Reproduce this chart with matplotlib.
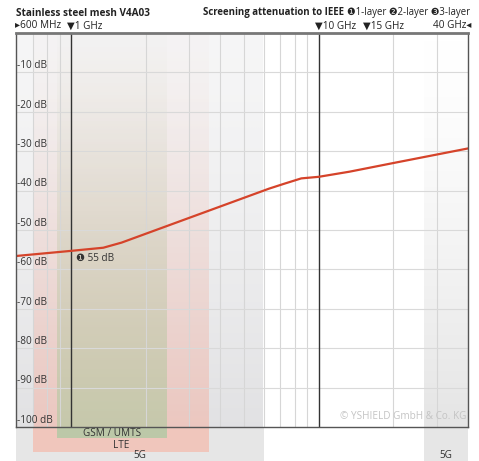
import numpy as np
import matplotlib
matplotlib.use("Agg")
import matplotlib.pyplot as plt
from matplotlib.patches import Rectangle
import matplotlib.transforms as mtransforms

# ---------------- data ----------------
freq_ghz = [0.6, 1.0, 1.35, 1.6, 6.3, 7.3, 8.5, 10, 13.3, 20, 40]
atten_db = [-56.6, -55.3, -54.5, -53.2, -39.5, -38.2, -36.9, -36.5, -35.2, -33.0, -29.3]

y_ticks = [-10, -20, -30, -40, -50, -60, -70, -80, -90, -100]
y_labels = ["-10 dB", "-20 dB", "-30 dB", "-40 dB", "-50 dB", "-60 dB",
            "-70 dB", "-80 dB", "-90 dB", "-100 dB"]
minor_freqs = [0.7, 0.8, 0.9, 2, 3, 4, 5, 6, 7, 8, 9, 20, 30]
major_freqs = [1, 10]

# frequency bands (GHz)
band_names = ["5G", "LTE", "GSM / UMTS", "5G"]
band_lo = [0.6, 0.7, 0.88, 26.5]
band_hi = [6.0, 3.6, 2.45, 40.0]

title = "Stainless steel mesh V4A03"
subtitle_bold = "Screening attenuation to IEEE "
subtitle_norm = "❶1-layer ❷2-layer ❸3-layer"
marker_note = "❶ 55 dB"
copyright_txt = "© YSHIELD GmbH & Co. KG"

# ---------------- style ----------------
W, H = 479, 461
FONT = ["Open Sans", "DejaVu Sans"]
plt.rcParams["font.family"] = FONT
fs = 7.2
fs_hdr = 6.9

fig = plt.figure(figsize=(W / 100, H / 100), dpi=100)
L, R, T, B = 16, 468, 33, 427
ax = fig.add_axes([L / W, 1 - B / H, (R - L) / W, (B - T) / H])
ax.set_xscale("log")

# band gradients inside the axes
band_cols = {
    0: ((0.88, 0.88, 0.89), 0.30, 0.95),
    1: ((0.94, 0.76, 0.72), 0.04, 0.80),
    2: ((0.75, 0.79, 0.66), 0.02, 0.85),
    3: ((0.89, 0.89, 0.89), 0.0, 0.90),
}
order = [0, 3, 1, 2]
for i in order:
    col, a0, a1 = band_cols[i]
    n = 256
    img = np.zeros((n, 2, 4))
    img[..., 0], img[..., 1], img[..., 2] = col
    alpha = a0 + (a1 - a0) * np.linspace(0, 1, n) ** 1.4
    img[..., 3] = alpha[:, None] * np.ones((1, 2))
    ax.imshow(img, extent=(band_lo[i], band_hi[i], -100, 0), origin="upper",
              aspect="auto", interpolation="bilinear", zorder=0)

ax.set_xlim(0.6, 40)
ax.set_ylim(-100, 0)
ax.set_xticks([])
ax.set_yticks([])
ax.minorticks_off()
ax.tick_params(which="both", length=0, labelbottom=False, labelleft=False)

# bands below the axes
trans = mtransforms.blended_transform_factory(ax.transData, ax.transAxes)
below_depth = {0: 34 / (B - T), 1: 25 / (B - T), 2: 11 / (B - T), 3: 34 / (B - T)}
below_cols = {0: "#e6e6e6", 1: "#f0c6bc", 2: "#bcc8a8", 3: "#e6e6e6"}
for i in order:
    ax.add_patch(Rectangle((band_lo[i], -below_depth[i]), band_hi[i] - band_lo[i],
                           below_depth[i], transform=trans, facecolor=below_cols[i],
                           edgecolor="none", clip_on=False, zorder=0))

label_y = {2: -6.5 / (B - T), 1: -18.5 / (B - T), 0: -28.5 / (B - T), 3: -28.5 / (B - T)}
for i in range(4):
    xc = np.sqrt(band_lo[i] * band_hi[i])
    ax.text(xc, label_y[i], band_names[i], transform=trans, ha="center", va="center",
            fontsize=fs, color="#333333", clip_on=False, zorder=5)

# grid
for f in minor_freqs:
    ax.axvline(f, color="#d6d6d6", lw=0.8, zorder=1)
for yv in y_ticks[:-1]:
    ax.axhline(yv, color="#d9d9d9", lw=0.8, zorder=1)
for f in major_freqs:
    ax.axvline(f, color="#333333", lw=1.0, zorder=2)

# y labels inside the axes
for yv, lab in zip(y_ticks, y_labels):
    ax.text(0.605, yv + 0.3, lab, ha="left", va="bottom", fontsize=fs,
            color="#333333", zorder=4)

# curve
ax.plot(freq_ghz, atten_db, color="#d5432a", lw=1.6, zorder=3,
        solid_joinstyle="round", solid_capstyle="round")

ax.text(1.045, -57.2, marker_note, ha="left", va="center", fontsize=fs,
        color="#333333", zorder=4)
ax.text(39.5, -97.4, copyright_txt, ha="right", va="center", fontsize=fs,
        color="#c4c4c4", zorder=4)

# spines
for s in ["left", "right", "bottom"]:
    ax.spines[s].set_color("#555555")
    ax.spines[s].set_linewidth(1.0)
ax.spines["top"].set_color("#777777")
ax.spines["top"].set_linewidth(2.0)
for s in ax.spines.values():
    s.set_zorder(6)

# header texts
def fx(px):
    return px / W

def fy(py):
    return 1 - py / H

fig.text(fx(16), fy(13), title, ha="left", va="center", fontsize=fs,
         fontweight="bold", color="#222222")
tn = fig.text(fx(470), fy(13), subtitle_norm, ha="right", va="center",
              fontsize=fs_hdr, color="#222222")
fig.canvas.draw()
bb = tn.get_window_extent(renderer=fig.canvas.get_renderer())
fig.text(bb.x0 / W, fy(13), subtitle_bold, ha="right", va="center", fontsize=fs_hdr,
         fontweight="bold", color="#222222")

row2 = fy(26)
fig.text(fx(15), row2, "▸600 MHz", ha="left", va="center", fontsize=fs, color="#222222")
for f, lab, off in [(1, "▼1 GHz", 0), (10, "▼10 GHz", 0), (15, "▼15 GHz", 4)]:
    xp = L + (np.log10(f) - np.log10(0.6)) / (np.log10(40) - np.log10(0.6)) * (R - L)
    fig.text(fx(xp - 3.5 + off), row2, lab, ha="left", va="center", fontsize=fs,
             color="#222222")
fig.text(fx(471), row2, "40 GHz◂", ha="right", va="center", fontsize=fs, color="#222222")

fig.savefig("out.png", dpi=100)
